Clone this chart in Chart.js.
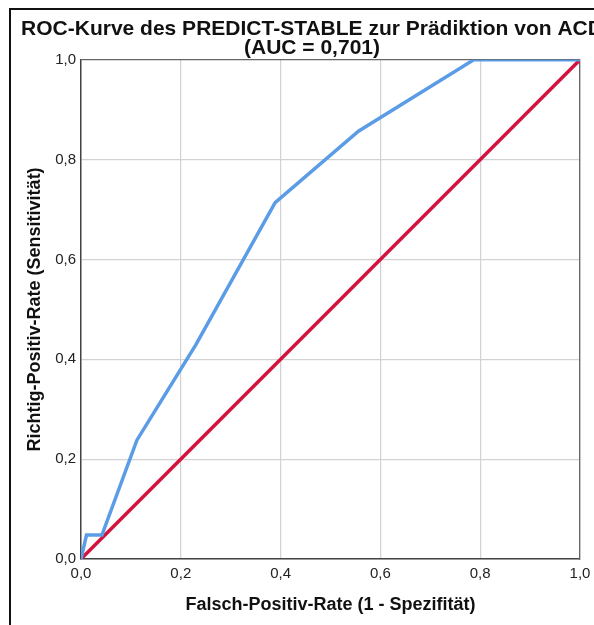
<!DOCTYPE html>
<html>
<head>
    <meta charset="UTF-8">
    <title>ROC-Kurve</title>
    <script src="https://cdn.jsdelivr.net/npm/chart.js@4.4.0/dist/chart.umd.min.js"></script>
    <style>
        html, body { margin: 0; padding: 0; background: #fff; overflow: hidden; }
        #frame { position: absolute; left: 9px; top: 8px; width: 700px; height: 700px; border: 2px solid #111; }
        #wrap { position: absolute; left: 0; top: 0; width: 624px; height: 625px; }
    </style>
</head>
<body>
    <div id="frame"></div>
    <div id="wrap"><canvas id="myChart" width="624" height="625"></canvas></div>
    <script>

        // ROC-Kurve (Falsch-Positiv-Rate, Richtig-Positiv-Rate)
        var fpr = [0, 0.011, 0.042, 0.112, 0.23, 0.389, 0.556, 0.787, 1.0];
        var tpr = [0, 0.048, 0.048, 0.238, 0.429, 0.714, 0.857, 1.0, 1.0];

        // Bezugslinie
        var refX = [0, 1];
        var refY = [0, 1];

        var tickValues = [0, 0.2, 0.4, 0.6, 0.8, 1.0];

        function fmt(v) {
            return v.toFixed(1).replace('.', ',');
        }

        var rocPoints = fpr.map((x, i) => ({ x: x, y: tpr[i] }));
        var refPoints = refX.map((x, i) => ({ x: x, y: refY[i] }));

        var font = "'Liberation Sans', Arial, sans-serif";
        var gridColor = ctx => ctx.tick && ctx.tick.value === 1 ? '#666' : '#d2d2d2';

        const data = {
            datasets: [{
                label: 'ROC',
                data: rocPoints,
                borderColor: '#5b9ce6',
                borderWidth: 3.5,
                pointRadius: 0,
                tension: 0,
                order: 1
            }, {
                label: 'Bezugslinie',
                data: refPoints,
                borderColor: '#d3123d',
                borderWidth: 3.5,
                pointRadius: 0,
                tension: 0,
                order: 2
            }]
        };

        const config = {
            type: 'line',
            data,
            options: {
                responsive: false,
                animation: false,
                layout: { padding: 0 },
                plugins: {
                    legend: { display: false },
                    tooltip: { enabled: false },
                    title: {
                        display: true,
                        text: ['ROC-Kurve des PREDICT-STABLE zur Prädiktion von ACD', '(AUC = 0,701)'],
                        color: '#111',
                        font: { family: font, size: 21, weight: 'bold', lineHeight: 0.9 },
                        padding: { top: 20, bottom: 2 }
                    }
                },
                scales: {
                    x: {
                        type: 'linear',
                        min: 0,
                        max: 1,
                        afterBuildTicks: s => { s.ticks = tickValues.map(v => ({ value: v })); },
                        afterFit: s => { s.height = 66; },
                        grid: { color: gridColor, lineWidth: 1.2, drawTicks: false },
                        border: { color: '#444', width: 1.5 },
                        ticks: { callback: v => fmt(v), color: '#222', padding: 6, maxRotation: 0,
                                 font: { family: font, size: 15 } },
                        title: { display: true, text: 'Falsch-Positiv-Rate (1 - Spezifität)', color: '#111',
                                 font: { family: font, size: 18, weight: 'bold' }, padding: { top: 0, bottom: 9 } }
                    },
                    y: {
                        type: 'linear',
                        min: 0,
                        max: 1,
                        afterBuildTicks: s => { s.ticks = tickValues.map(v => ({ value: v })); },
                        afterFit: s => { s.width = 81; },
                        grid: { color: gridColor, lineWidth: 1.2, drawTicks: false },
                        border: { color: '#444', width: 1.5 },
                        ticks: { callback: v => fmt(v), color: '#222', padding: 5,
                                 font: { family: font, size: 15 } },
                        title: { display: true, text: 'Richtig-Positiv-Rate (Sensitivität)', color: '#111',
                                 font: { family: font, size: 18, weight: 'bold' }, padding: { top: 24, bottom: 0 } }
                    },
                    yRight: {
                        type: 'linear',
                        position: 'right',
                        min: 0,
                        max: 1,
                        afterFit: s => { s.width = 44; },
                        grid: { display: false, drawTicks: false },
                        border: { color: '#666', width: 1.2 },
                        ticks: { display: false }
                    }
                }
            }
        };

        var myChart = new Chart(
            document.getElementById('myChart'),
            config
        );

    </script>
</body>
</html>
